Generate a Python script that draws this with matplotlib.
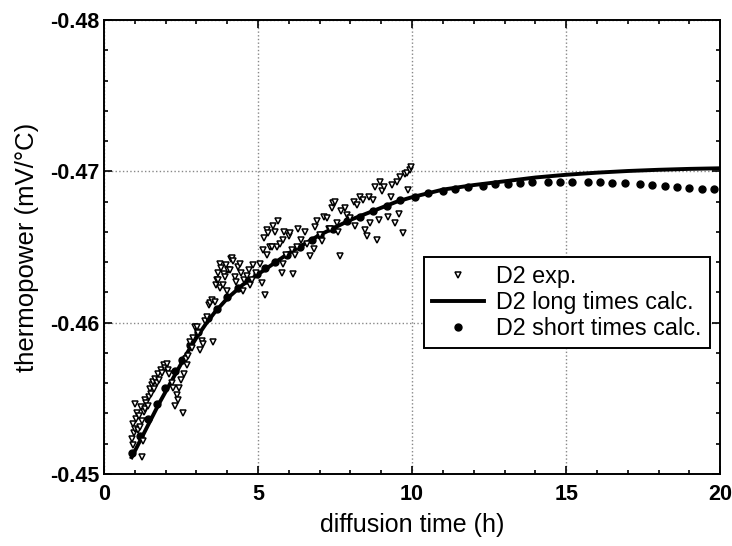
import matplotlib
matplotlib.use("Agg")
import matplotlib.pyplot as plt
from matplotlib.ticker import MultipleLocator, FormatStrFormatter

plt.rcParams['font.family'] = ['Liberation Sans', 'DejaVu Sans']

# ---- data ----
exp_t = [0.90, 0.93, 0.95, 0.98, 1.00, 1.02, 1.05, 1.08, 1.12, 1.15, 1.17, 1.20, 1.22, 1.25, 1.28, 1.30, 1.33, 1.33, 1.38, 1.42, 1.45, 1.49, 1.52,
         1.55, 1.60, 1.63, 1.67, 1.72, 1.76, 1.80, 1.85, 1.90, 1.95, 1.98, 2.03, 2.08, 2.12, 2.20, 2.25, 2.31, 2.36, 2.41, 2.45, 2.50, 2.57, 2.60,
         2.65, 2.68, 2.72, 2.79, 2.85, 2.90, 2.95, 3.01, 3.05, 3.12, 3.18, 3.22, 3.28, 3.35, 3.40, 3.44, 3.50, 3.55, 3.60,
         3.62, 3.66, 3.70, 3.71, 3.75, 3.77, 3.80, 3.85, 3.88, 3.92, 3.95, 4.00, 4.04, 4.09, 4.12, 4.15, 4.20, 4.25, 4.30, 4.35, 4.42, 4.45, 4.52, 4.55,
         4.63, 4.70, 4.74, 4.80, 4.85, 4.95, 5.06, 5.12, 5.17, 5.20, 5.23, 5.28, 5.30, 5.33, 5.38, 5.44, 5.50,
         5.55, 5.61, 5.66, 5.70, 5.77, 5.80, 5.82, 5.85, 5.90, 6.00, 6.04, 6.10, 6.15, 6.20, 6.25, 6.30, 6.40, 6.53,
         6.60, 6.69, 6.80, 6.85, 6.90, 7.00, 7.07, 7.15, 7.23, 7.30, 7.34, 7.40, 7.44, 7.50,
         7.55, 7.61, 7.66, 7.70, 7.82, 7.90, 8.00, 8.10, 8.15, 8.20, 8.31, 8.40, 8.47,
         8.53, 8.60, 8.64, 8.74, 8.80, 8.85, 8.91, 8.96, 9.02, 9.10, 9.23, 9.30, 9.34, 9.45, 9.50, 9.56, 9.62, 9.72, 9.77, 9.85, 9.88, 9.94, 9.98]
exp_v = [-0.4523, -0.4519, -0.4533, -0.4527, -0.4546, -0.4530, -0.4536, -0.4540, -0.4529, -0.4538, -0.4531, -0.4544, -0.4511, -0.4535, -0.4522, -0.4541, -0.4549, -0.4543, -0.4547, -0.4545, -0.4551, -0.4556, -0.4553,
         -0.4559, -0.4561, -0.4556, -0.4563, -0.4560, -0.4566, -0.4562, -0.4569, -0.4567, -0.4572, -0.4570, -0.4573, -0.4569, -0.4566, -0.4560, -0.4557, -0.4545, -0.4552, -0.4549, -0.4557, -0.4562, -0.4540, -0.4566,
         -0.4576, -0.4572, -0.4578, -0.4587, -0.4583, -0.4590, -0.4597, -0.4597, -0.4593, -0.4582, -0.4588, -0.4586, -0.4601, -0.4604, -0.4612, -0.4613, -0.4615, -0.4587, -0.4614,
         -0.4625, -0.4628, -0.4633, -0.4628, -0.4623, -0.4639, -0.4636, -0.4625, -0.4632, -0.4630, -0.4638, -0.4621, -0.4635, -0.4635, -0.4642, -0.4643, -0.4641, -0.4630, -0.4627, -0.4637, -0.4639, -0.4633, -0.4621, -0.4628,
         -0.4631, -0.4635, -0.4625, -0.4628, -0.4638, -0.4633, -0.4639, -0.4626, -0.4648, -0.4656, -0.4618, -0.4661, -0.4645, -0.4659, -0.4650, -0.4650, -0.4664,
         -0.4660, -0.4650, -0.4667, -0.4652, -0.4633, -0.4655, -0.4639, -0.4660, -0.4645, -0.4657, -0.4659, -0.4648, -0.4632, -0.4645, -0.4650, -0.4662, -0.4655, -0.4660,
         -0.4652, -0.4644, -0.4649, -0.4663, -0.4667, -0.4658, -0.4654, -0.4670, -0.4669, -0.4662, -0.4662, -0.4676, -0.4679, -0.4680,
         -0.4666, -0.4660, -0.4644, -0.4674, -0.4676, -0.4671, -0.4669, -0.4680, -0.4664, -0.4678, -0.4683, -0.4681, -0.4661,
         -0.4657, -0.4683, -0.4666, -0.4681, -0.4690, -0.4655, -0.4668, -0.4693, -0.4687, -0.4690, -0.4670, -0.4683, -0.4691, -0.4666, -0.4693, -0.4672, -0.4696, -0.4659, -0.4698, -0.4699, -0.4688, -0.4701, -0.4703]

long_t = [0.9, 1.2, 1.5, 1.8, 2.1, 2.4, 2.7, 3.0, 3.3, 3.6, 4.0, 4.5, 5.0, 5.5, 6.0, 6.5, 7.0, 7.5, 8.0, 8.5, 9.0, 9.5, 10.0,
          11.0, 12.0, 13.0, 14.0, 15.0, 16.0, 17.0, 18.0, 19.0, 20.0]
long_v = [-0.4511, -0.4523, -0.4535, -0.4547, -0.4558, -0.4569, -0.4580, -0.4590, -0.4599, -0.4607, -0.4616, -0.4625, -0.4632, -0.4639, -0.4646, -0.4652, -0.4658, -0.4663, -0.4668, -0.4672, -0.4676, -0.4680, -0.4683,
          -0.4688, -0.4691, -0.46935, -0.4696, -0.46978, -0.46992, -0.47003, -0.47011, -0.47017, -0.47021]

short_t = [0.90, 1.17, 1.44, 1.71, 1.98, 2.31, 2.52, 2.79, 3.06, 3.39, 3.66, 3.98, 4.36, 4.63, 4.96, 5.23, 5.55, 5.93, 6.36, 6.74, 7.01, 7.44, 7.88, 8.31, 8.74, 9.18, 9.61,
           10.1, 10.5, 11.0, 11.4, 11.8, 12.3, 12.7, 13.1, 13.5, 13.9, 14.4, 14.8, 15.2, 15.7, 16.1, 16.5, 16.9, 17.4, 17.8, 18.2, 18.6, 19.0, 19.4, 19.8]
short_v = [-0.4514, -0.4525, -0.4536, -0.4546, -0.4557, -0.4568, -0.4575, -0.4585, -0.4594, -0.4603, -0.4609, -0.4617, -0.4623, -0.4628, -0.4632, -0.4636, -0.4640, -0.4645, -0.4650, -0.4655, -0.4658, -0.4662, -0.4667, -0.4670, -0.4674, -0.4677, -0.4681,
           -0.46833, -0.46855, -0.46870, -0.46882, -0.46895, -0.46906, -0.46915, -0.46919, -0.46923, -0.46928, -0.46930, -0.46932, -0.46932, -0.46932, -0.46930, -0.46925, -0.46921, -0.46917, -0.46912, -0.46906, -0.46899, -0.46892, -0.46886, -0.46882]

xlabel = "diffusion time (h)"
ylabel = "thermopower (mV/°C)"

# ---- plot ----
fig = plt.figure(figsize=(7.32, 5.46), dpi=100)
ax = fig.add_axes([0.142, 0.132, 0.842, 0.831])

ax.plot(long_t, long_v, color='black', lw=2.8, label='D2 long times calc.', zorder=3)
ax.plot(short_t, short_v, 'o', color='black', ms=5.0, label='D2 short times calc.', zorder=3)
ax.plot(exp_t, exp_v, 'v', mfc='white', mec='black', mew=1.1, ms=5.0, ls='none', label='D2 exp.', zorder=4)

ax.set_xlim(0, 20)
ax.set_ylim(-0.45, -0.48)
ax.xaxis.set_major_locator(MultipleLocator(5))
ax.xaxis.set_minor_locator(MultipleLocator(1))
ax.yaxis.set_major_locator(MultipleLocator(0.01))
ax.yaxis.set_minor_locator(MultipleLocator(0.002))
ax.yaxis.set_major_formatter(FormatStrFormatter('%.2f'))
ax.grid(True, which='major', ls=':', color='#888888', lw=1.0)
ax.tick_params(which='both', direction='in', top=True, right=True, labelsize=15.5, width=1.2)
ax.tick_params(axis='x', which='major', pad=7)
ax.tick_params(which='major', length=6)
ax.tick_params(which='minor', length=3)
for lab in ax.get_xticklabels() + ax.get_yticklabels():
    lab.set_fontweight('bold')
for sp in ax.spines.values():
    sp.set_linewidth(1.4)

ax.set_xlabel(xlabel, fontsize=18, labelpad=6)
ax.set_ylabel(ylabel, fontsize=18.5, labelpad=8)

h, l = ax.get_legend_handles_labels()
order = [2, 0, 1]
leg = ax.legend([h[i] for i in order], [l[i] for i in order], loc='upper left',
                bbox_to_anchor=(0.519, 0.479), fontsize=16.8, frameon=True, fancybox=False,
                edgecolor='black', framealpha=1, handlelength=2.25, borderpad=0.35,
                labelspacing=0.14, handletextpad=0.5, borderaxespad=0)
leg.get_frame().set_linewidth(1.4)

fig.savefig('out.png', dpi=100)
